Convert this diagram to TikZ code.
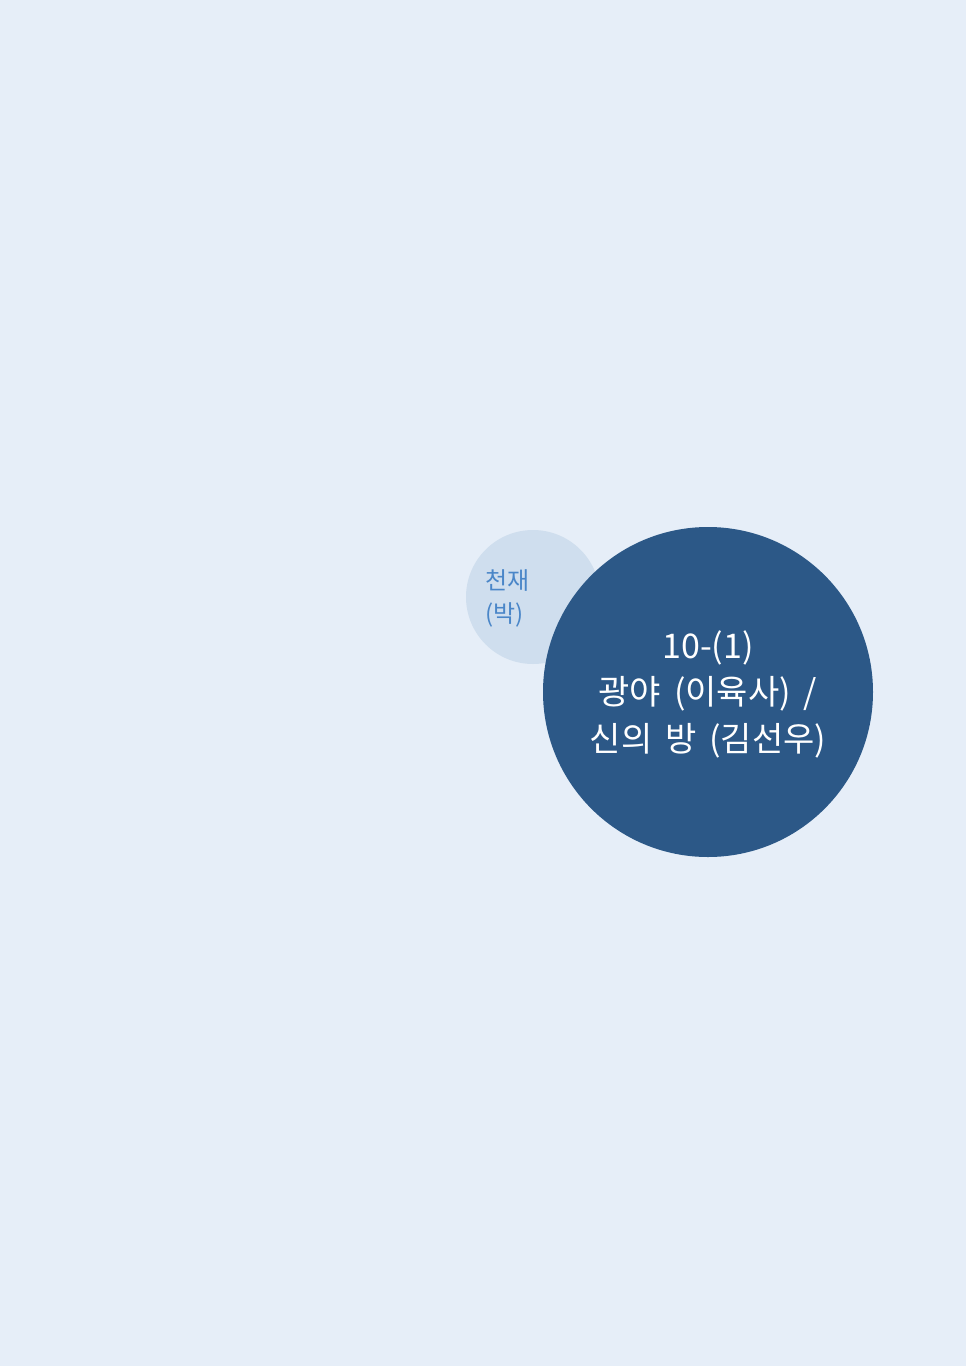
\documentclass[tikz,border=0pt]{standalone}
\usepackage{fontspec}
\setmainfont{Noto Sans CJK KR}
\newfontfamily\bigf[WordSpace=1.7]{Noto Sans CJK KR}
\definecolor{bgc}{HTML}{E6EEF8}
\definecolor{smallc}{HTML}{CFDEEE}
\definecolor{bigc}{HTML}{2C5887}
\definecolor{smalltext}{HTML}{4A86C8}
\tikzset{
  bubble/.style={circle, inner sep=0pt, draw=none},
}
\begin{document}
\begin{tikzpicture}[x=1pt,y=-1pt]
\fill[bgc] (0,0) rectangle (966,1366);
\useasboundingbox (0,0) rectangle (966,1366);
\node[bubble, fill=smallc, minimum size=134pt] (small) at (533,597) {};
\node[bubble, fill=bigc, minimum size=330pt] (big) at (708,692) {};
\node[anchor=west, align=left, text=smalltext, inner sep=0pt,
  font=\fontsize{24}{33}\selectfont] (smalltxt) at (485,598) {천재\\(박)};
\node[align=center, text=white, inner sep=0pt,
  font=\bigf\fontsize{34}{46.5}\selectfont] (bigtxt) at (708,694) {10-(1)\\광야 (이육사) /\\신의 방 (김선우)};
\end{tikzpicture}
\end{document}
